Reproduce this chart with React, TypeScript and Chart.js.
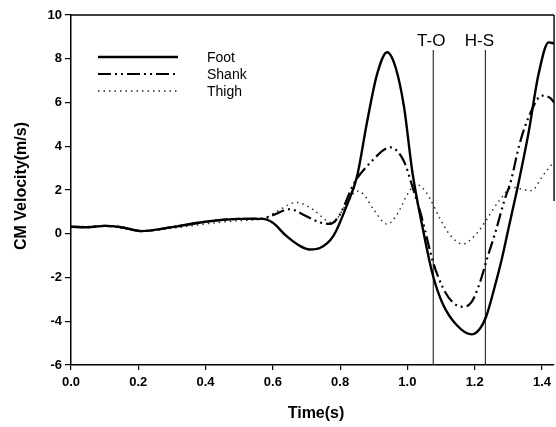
import React, { useEffect, useRef } from "react";
import { Chart, registerables } from "chart.js";

Chart.register(...registerables);

const footTime = [0.0, 0.05, 0.1, 0.15, 0.21, 0.3, 0.4, 0.5, 0.57, 0.6, 0.64, 0.68, 0.71, 0.74, 0.78, 0.82, 0.85, 0.88, 0.91, 0.94, 0.965, 0.99, 1.015, 1.045, 1.075, 1.105, 1.145, 1.19, 1.215, 1.235, 1.26, 1.28, 1.3, 1.33, 1.36, 1.39, 1.42, 1.436];
const footVel = [0.32, 0.3, 0.36, 0.3, 0.12, 0.3, 0.55, 0.68, 0.68, 0.5, -0.1, -0.55, -0.72, -0.65, -0.1, 1.3, 2.6, 5.1, 7.3, 8.3, 7.6, 5.8, 2.8, 0.3, -1.85, -3.2, -4.15, -4.6, -4.35, -3.75, -2.4, -1.2, 0.2, 2.3, 4.6, 7.3, 8.75, 8.7];

const shankTime = [0.0, 0.05, 0.1, 0.15, 0.21, 0.3, 0.4, 0.5, 0.57, 0.6, 0.65, 0.7, 0.74, 0.77, 0.8, 0.84, 0.89, 0.95, 0.99, 1.016, 1.04, 1.055, 1.075, 1.105, 1.135, 1.164, 1.19, 1.214, 1.238, 1.263, 1.288, 1.308, 1.332, 1.362, 1.4, 1.425, 1.436];
const shankVel = [0.32, 0.3, 0.36, 0.3, 0.12, 0.3, 0.55, 0.68, 0.7, 0.85, 1.12, 0.8, 0.52, 0.45, 0.9, 2.27, 3.25, 3.95, 3.3, 2.1, 0.9, 0.0, -1.23, -2.45, -3.14, -3.34, -3.14, -2.3, -1.08, 0.14, 1.51, 2.42, 4.02, 5.39, 6.31, 6.2, 6.0];

const thighTime = [0.0, 0.1, 0.21, 0.3, 0.4, 0.5, 0.57, 0.61, 0.67, 0.72, 0.76, 0.78, 0.8, 0.82, 0.85, 0.87, 0.9, 0.94, 0.97, 1.0, 1.025, 1.045, 1.065, 1.095, 1.125, 1.164, 1.204, 1.233, 1.273, 1.313, 1.35, 1.37, 1.4, 1.436];
const thighVel = [0.32, 0.34, 0.13, 0.25, 0.45, 0.6, 0.68, 1.0, 1.43, 1.1, 0.6, 0.5, 0.9, 1.4, 1.95, 1.8, 1.1, 0.44, 0.9, 1.8, 2.25, 2.1, 1.66, 0.75, -0.02, -0.47, -0.02, 0.59, 1.51, 2.12, 2.0, 1.97, 2.6, 3.3];

const eventNames = ["T-O", "H-S"];
const eventTimes = [1.077, 1.232];
const eventTop = 8.4;

const seriesNames = ["Foot", "Shank", "Thigh"];
const xTicks = [0, 0.2, 0.4, 0.6, 0.8, 1.0, 1.2, 1.4];
const yTicks = [-6, -4, -2, 0, 2, 4, 6, 8, 10];
const xMin = 0;
const xMax = 1.436;
const yMin = -6;
const yMax = 10;

const toPoints = (xs: number[], ys: number[]) => xs.map((x, i) => ({ x, y: ys[i] }));

export default function App() {
  const ref = useRef<HTMLCanvasElement | null>(null);

  useEffect(() => {
    if (!ref.current) return;
    const styles = [
      { color: "#000", width: 2.4, dash: [] as number[] },
      { color: "#000", width: 2.2, dash: [13, 4, 2, 4, 2, 4] },
      { color: "#222", width: 1.4, dash: [1.5, 4] },
    ];

    const extrasPlugin = {
      id: "extras",
      afterDraw(chart: any) {
        const ctx = chart.ctx;
        const xs = chart.scales.x;
        const ys = chart.scales.y;
        ctx.save();
        ctx.strokeStyle = "#000";
        ctx.lineWidth = 1.4;
        ctx.beginPath();
        ctx.moveTo(xs.getPixelForValue(xMin), ys.getPixelForValue(yMax));
        ctx.lineTo(xs.getPixelForValue(xMax), ys.getPixelForValue(yMax));
        ctx.moveTo(xs.getPixelForValue(xMax), ys.getPixelForValue(yMax));
        ctx.lineTo(xs.getPixelForValue(xMax), ys.getPixelForValue(1.5));
        ctx.stroke();

        ctx.fillStyle = "#000";
        ctx.font = "17px 'Liberation Sans', Arial, sans-serif";
        ctx.textAlign = "center";
        ctx.textBaseline = "middle";
        eventNames.forEach((n, i) => {
          const px = xs.getPixelForValue(eventTimes[i]) - (i === 0 ? 2 : 6);
          ctx.fillText(n, px, ys.getPixelForValue(8.8));
        });

        const lx0 = 98, lx1 = 178, ly = [57, 74, 91];
        seriesNames.forEach((n, i) => {
          const s = styles[i];
          ctx.strokeStyle = s.color;
          ctx.lineWidth = s.width;
          ctx.setLineDash(s.dash);
          ctx.beginPath();
          ctx.moveTo(lx0, ly[i]);
          ctx.lineTo(lx1, ly[i]);
          ctx.stroke();
          ctx.setLineDash([]);
          ctx.fillStyle = "#000";
          ctx.font = "14px 'Liberation Sans', Arial, sans-serif";
          ctx.textAlign = "left";
          ctx.textBaseline = "middle";
          ctx.fillText(n, 207, ly[i] + 1);
        });

        ctx.font = "bold 16px 'Liberation Sans', Arial, sans-serif";
        ctx.textAlign = "center";
        ctx.textBaseline = "middle";
        ctx.fillText("Time(s)", 316, 414);
        ctx.save();
        ctx.translate(22, 186);
        ctx.rotate(-Math.PI / 2);
        ctx.fillText("CM Velocity(m/s)", 0, 0);
        ctx.restore();
        ctx.restore();
      },
    };

    const datasets: any[] = [
      { label: seriesNames[0], data: toPoints(footTime, footVel) },
      { label: seriesNames[1], data: toPoints(shankTime, shankVel) },
      { label: seriesNames[2], data: toPoints(thighTime, thighVel) },
    ].map((d, i) => ({
      ...d,
      borderColor: styles[i].color,
      borderWidth: styles[i].width,
      borderDash: styles[i].dash,
      pointRadius: 0,
      tension: 0.4,
      cubicInterpolationMode: "monotone",
      fill: false,
    }));

    eventTimes.forEach((t, i) => {
      datasets.push({
        label: eventNames[i],
        data: [
          { x: t, y: yMin },
          { x: t, y: eventTop },
        ],
        borderColor: "#333",
        borderWidth: 1.2,
        pointRadius: 0,
        fill: false,
      });
    });

    const tickFont = { family: "'Liberation Sans', Arial, sans-serif", size: 13, weight: "bold" };

    const chart = new Chart(ref.current, {
      type: "line",
      data: { datasets },
      options: {
        animation: false,
        responsive: false,
        maintainAspectRatio: false,
        layout: { padding: { top: 15, right: 1, left: 0, bottom: 0 } },
        plugins: { legend: { display: false }, tooltip: { enabled: false } },
        scales: {
          x: {
            type: "linear",
            min: xMin,
            max: xMax,
            afterFit: (s: any) => {
              s.height = 62;
            },
            afterBuildTicks: (s: any) => {
              s.ticks = xTicks.map((v) => ({ value: v }));
            },
            ticks: {
              includeBounds: false,
              color: "#000",
              font: tickFont,
              padding: 5,
              maxRotation: 0,
              callback: (v: any) => Number(v).toFixed(1),
            },
            grid: { display: true, drawOnChartArea: false, drawTicks: true, tickLength: 5, color: "#000", lineWidth: 1.2 },
            border: { display: true, color: "#000", width: 1.5 },
          },
          y: {
            type: "linear",
            min: yMin,
            max: yMax,
            afterFit: (s: any) => {
              s.width = 71;
            },
            afterBuildTicks: (s: any) => {
              s.ticks = yTicks.map((v) => ({ value: v }));
            },
            ticks: {
              color: "#000",
              font: tickFont,
              padding: 3,
              callback: (v: any) => String(v),
            },
            grid: { display: true, drawOnChartArea: false, drawTicks: true, tickLength: 6, color: "#000", lineWidth: 1.2 },
            border: { display: true, color: "#000", width: 1.5 },
          },
        },
      },
      plugins: [extrasPlugin],
    } as any);

    return () => chart.destroy();
  }, []);

  return (
    <div style={{ position: "fixed", left: 0, top: 0, width: 556, height: 427, background: "#fff" }}>
      <canvas ref={ref} width={556} height={427} style={{ width: 556, height: 427, display: "block" }} />
    </div>
  );
}
